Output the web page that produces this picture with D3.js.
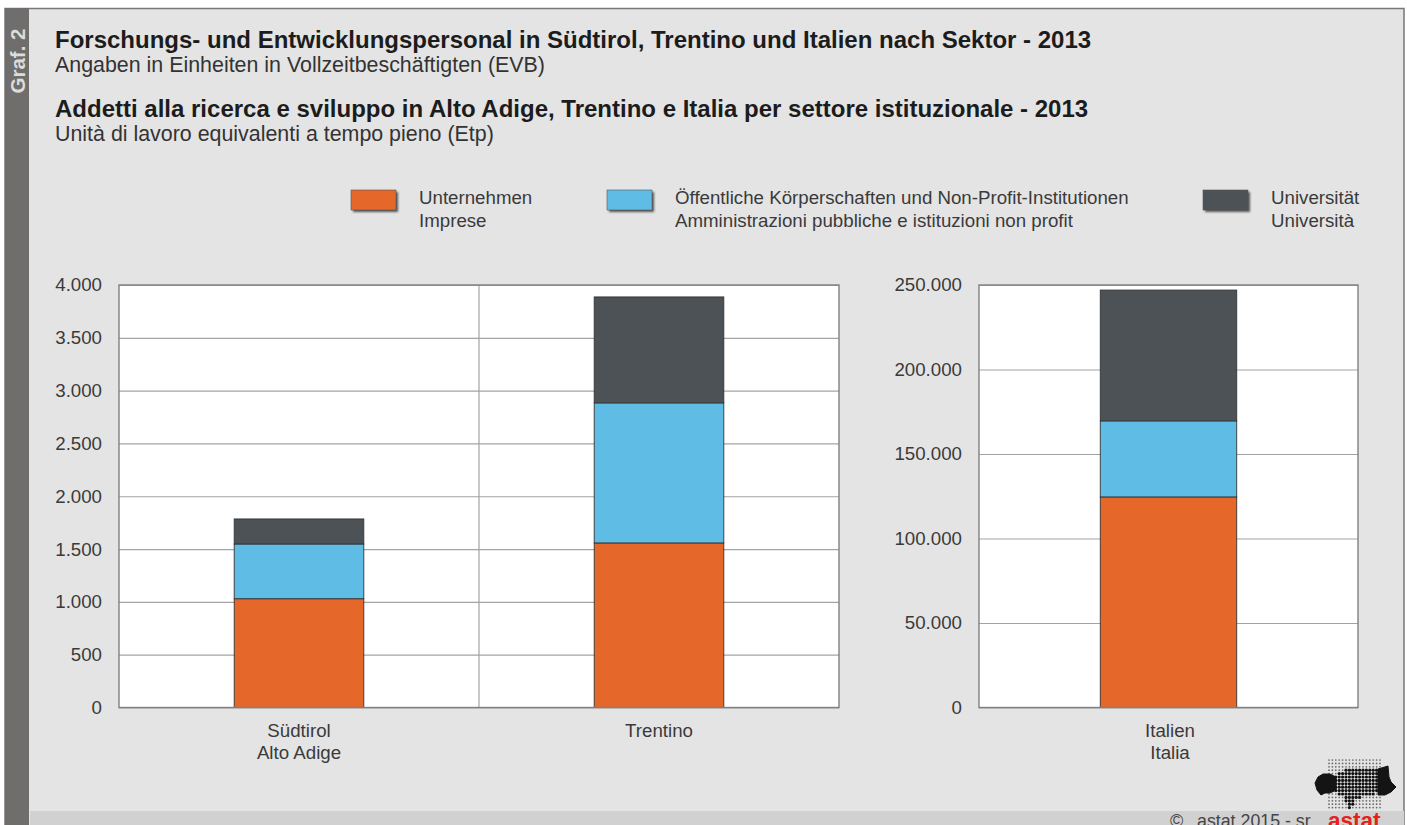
<!DOCTYPE html>
<html>
<head>
<meta charset="utf-8">
<script src="https://cdn.jsdelivr.net/npm/d3@7"></script>
<style>
  html, body { margin: 0; padding: 0; background: #fff; overflow: hidden; }
  text { font-family: "Liberation Sans", Arial, sans-serif; }
</style>
</head>
<body>
<div id="chart"></div>
<script>
const sectors = ["unternehmen", "oeffentlich", "universitaet"];
const sectorColors = ["#e5672a", "#5fbce5", "#4d5256"];
const sectorLabels = [
  ["Unternehmen", "Imprese"],
  ["Öffentliche Körperschaften und Non-Profit-Institutionen", "Amministrazioni pubbliche e istituzioni non profit"],
  ["Universität", "Università"]
];

const regionsLeft = ["Südtirol|Alto Adige", "Trentino"];
const unternehmenLeft = [1030, 1558];
const oeffentlichLeft = [518, 1326];
const universitaetLeft = [237, 1003];
const ticksLeft = [0, 500, 1000, 1500, 2000, 2500, 3000, 3500, 4000];

const regionsRight = ["Italien|Italia"];
const unternehmenRight = [124600];
const oeffentlichRight = [45000];
const universitaetRight = [77400];
const ticksRight = [0, 50000, 100000, 150000, 200000, 250000];

const titles = [
  { text: "Forschungs- und Entwicklungspersonal in Südtirol, Trentino und Italien nach Sektor - 2013", y: 48, bold: true },
  { text: "Angaben in Einheiten in Vollzeitbeschäftigten (EVB)", y: 71.5, bold: false },
  { text: "Addetti alla ricerca e sviluppo in Alto Adige, Trentino e Italia per settore istituzionale - 2013", y: 116.5, bold: true },
  { text: "Unità di lavoro equivalenti a tempo pieno (Etp)", y: 140.5, bold: false }
];

const width = 1407;
const height = 825;
const labelSize = 18.7;
const textColor = "#3a3a3a";
const fmt = d3.formatLocale({ decimal: ",", thousands: ".", grouping: [3], currency: ["", ""] }).format(",d");

const svg = d3.select("#chart").append("svg")
  .attr("width", width)
  .attr("height", height)
  .style("display", "block");

const defs = svg.append("defs");
defs.append("filter").attr("id", "soft")
  .attr("x", "-20%").attr("y", "-20%").attr("width", "140%").attr("height", "140%")
  .append("feGaussianBlur").attr("stdDeviation", 1.2);

// frame
svg.append("rect").attr("x", 5).attr("y", 8.5).attr("width", 1399).attr("height", 820)
  .attr("fill", "#e4e4e4").attr("stroke", "#77777a").attr("stroke-width", 1.5);
svg.append("rect").attr("x", 5).attr("y", 8).attr("width", 24).attr("height", 820).attr("fill", "#6f6e6c");
svg.append("rect").attr("x", 30).attr("y", 811).attr("width", 1374).attr("height", 16).attr("fill", "#d1d1d1");

svg.append("text")
  .attr("transform", "translate(24.5,93.5) rotate(-90)")
  .attr("font-size", 20.5).attr("font-weight", "bold").attr("fill", "#dcdcdc")
  .text("Graf. 2");

svg.selectAll("text.title").data(titles).join("text")
  .attr("class", "title")
  .attr("x", 55)
  .attr("y", (d) => d.y)
  .attr("font-size", (d) => (d.bold ? 24 : 21.4))
  .attr("font-weight", (d) => (d.bold ? "bold" : "normal"))
  .attr("fill", (d) => (d.bold ? "#1c1c1c" : "#333"))
  .text((d) => d.text);

// legend
const legendSwatchX = [351, 607, 1203];
const legend = svg.selectAll("g.legend").data(sectors).join("g")
  .attr("class", "legend")
  .attr("transform", (d, i) => `translate(${legendSwatchX[i]},190)`);
legend.append("rect").attr("x", 2).attr("y", 2).attr("width", 45).attr("height", 20)
  .attr("fill", "#555").attr("filter", "url(#soft)");
legend.append("rect").attr("width", 45).attr("height", 20)
  .attr("fill", (d, i) => sectorColors[i])
  .attr("stroke", "#555").attr("stroke-width", 0.6);
legend.each(function (d, i) {
  d3.select(this).selectAll("text").data(sectorLabels[i]).join("text")
    .attr("x", 68)
    .attr("y", (t, j) => 13.5 + j * 23)
    .attr("font-size", labelSize)
    .attr("fill", textColor)
    .text((t) => t);
});

const drawPanel = (regions, series, ticks, left, right, labelShift) => {
  const top = 285;
  const bottom = 707.5;
  const x = d3.scaleBand().domain(regions).range([left, right]);
  const y = d3.scaleLinear().domain([0, ticks[ticks.length - 1]]).range([bottom, top]);
  const barWidth = x.bandwidth() * 0.36;

  const rows = regions.map((r, i) => {
    const row = { region: r };
    sectors.forEach((s, k) => { row[s] = series[k][i]; });
    return row;
  });
  const stacked = d3.stack().keys(sectors)(rows);

  const g = svg.append("g");
  g.append("rect").attr("x", left).attr("y", top)
    .attr("width", right - left).attr("height", bottom - top).attr("fill", "#fff");

  const yAxis = g.append("g")
    .attr("transform", `translate(${left},0)`)
    .call(d3.axisLeft(y).tickValues(ticks).tickFormat(fmt).tickSize(-(right - left)).tickPadding(17));
  yAxis.select(".domain").remove();
  yAxis.selectAll(".tick line").attr("stroke", "#a3a3a3").attr("stroke-width", 1.2);
  yAxis.selectAll(".tick text")
    .attr("font-size", labelSize)
    .attr("font-family", '"Liberation Sans", Arial, sans-serif')
    .attr("fill", textColor);

  // divider between categories
  g.selectAll("line.divider").data(regions.slice(1)).join("line")
    .attr("class", "divider")
    .attr("x1", (d) => x(d)).attr("x2", (d) => x(d))
    .attr("y1", top).attr("y2", bottom)
    .attr("stroke", "#a3a3a3").attr("stroke-width", 1.2);

  g.selectAll("g.layer").data(stacked).join("g")
    .attr("class", "layer")
    .attr("fill", (d, i) => sectorColors[i])
    .selectAll("rect").data((d) => d).join("rect")
    .attr("x", (d) => x(d.data.region) + (x.bandwidth() - barWidth) / 2)
    .attr("width", barWidth)
    .attr("y", (d) => y(d[1]))
    .attr("height", (d) => y(d[0]) - y(d[1]))
    .attr("stroke", "#333")
    .attr("stroke-width", 0.9);

  g.append("rect").attr("x", left).attr("y", top)
    .attr("width", right - left).attr("height", bottom - top)
    .attr("fill", "none").attr("stroke", "#808080").attr("stroke-width", 1.4);

  const xLabels = g.selectAll("g.xlabel").data(regions).join("g").attr("class", "xlabel");
  xLabels.each(function (r) {
    d3.select(this).selectAll("text").data(r.split("|")).join("text")
      .attr("x", x(r) + x.bandwidth() / 2 + labelShift)
      .attr("y", (t, j) => 736.5 + j * 22)
      .attr("text-anchor", "middle")
      .attr("font-size", labelSize)
      .attr("fill", textColor)
      .text((t) => t);
  });
};

drawPanel(regionsLeft, [unternehmenLeft, oeffentlichLeft, universitaetLeft], ticksLeft, 119, 839, 0);
drawPanel(regionsRight, [unternehmenRight, oeffentlichRight, universitaetRight], ticksRight, 979, 1358, 1.5);

// footer, cut by the lower edge as in the original
svg.append("text").attr("x", 1170).attr("y", 827).attr("font-size", 18).attr("fill", "#444")
  .text("©");
svg.append("text").attr("x", 1197).attr("y", 827).attr("font-size", 17.8).attr("fill", "#444")
  .text("astat 2015 - sr");
svg.append("text").attr("x", 1328).attr("y", 828).attr("font-size", 22.5).attr("font-weight", "bold")
  .attr("fill", "#e2231a").text("astat");

// logo, a dot raster over the outline of the province
const logoOutline = [[1331, 776], [1340, 773], [1347, 768], [1382, 767], [1384, 792], [1363, 797], [1354, 802], [1351, 811], [1347, 805], [1343, 795], [1331, 793]];
const logoLeft = [[1315, 783], [1318, 777], [1323, 774], [1330, 774], [1336, 777], [1336, 790], [1330, 793], [1325, 793], [1321, 795], [1317, 790]];
const logoRight = [[1378, 769], [1388, 766], [1389, 777], [1391, 782], [1396, 787], [1391, 792], [1385, 795], [1378, 795]];
const logo = svg.append("g");
const dotStep = 3.4;
d3.range(16).forEach((col) => {
  d3.range(15).forEach((row) => {
    const px = 1329 + col * dotStep;
    const py = 760 + row * dotStep;
    const inside = d3.polygonContains(logoOutline, [px, py]);
    logo.append("circle").attr("cx", px).attr("cy", py)
      .attr("r", inside ? 1.6 : 0.85)
      .attr("fill", inside ? "#111" : "#666");
  });
});
logo.selectAll("path").data([logoLeft, logoRight]).join("path")
  .attr("d", (d) => d3.line()(d) + "Z")
  .attr("fill", "#141414")
  .attr("stroke", "#141414")
  .attr("stroke-width", 1)
  .attr("stroke-linejoin", "round");
</script>
</body>
</html>
